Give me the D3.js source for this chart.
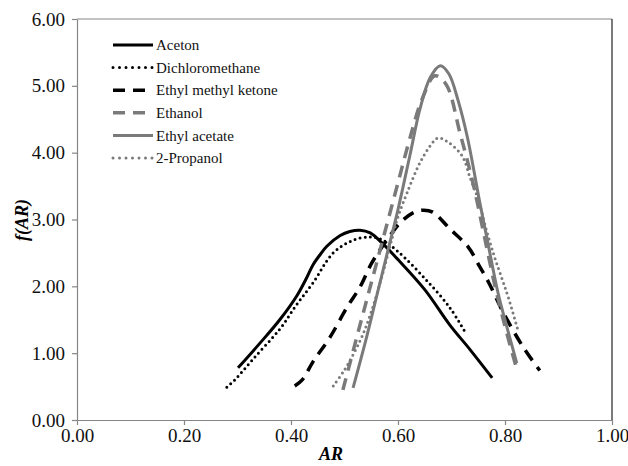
<!DOCTYPE html>
<html>
<head>
<meta charset="utf-8">
<script src="https://cdn.jsdelivr.net/npm/d3@7"></script>
<style>
  html, body { margin: 0; padding: 0; background: #fff; }
  svg { display: block; }
  text { font-family: "Liberation Serif", "Times New Roman", serif; }
</style>
</head>
<body>
<svg id="chart" width="628" height="466"></svg>
<script>
// Size distribution f(AR) of aspect ratio AR for particles from each solvent
const seriesNames = ["Aceton", "Dichloromethane", "Ethyl methyl ketone", "Ethanol", "Ethyl acetate", "2-Propanol"];

const acetonAR = [0.301, 0.342, 0.379, 0.411, 0.430, 0.441, 0.455, 0.467, 0.492, 0.510, 0.529, 0.548, 0.570, 0.600, 0.650, 0.697, 0.735, 0.776];
const acetonF  = [0.78, 1.15, 1.50, 1.86, 2.14, 2.32, 2.48, 2.60, 2.76, 2.82, 2.84, 2.80, 2.65, 2.40, 1.95, 1.42, 1.05, 0.63];

const dcmAR = [0.280, 0.295, 0.330, 0.379, 0.410, 0.441, 0.479, 0.516, 0.548, 0.570, 0.600, 0.650, 0.697, 0.725];
const dcmF  = [0.49, 0.60, 0.92, 1.36, 1.72, 2.05, 2.50, 2.69, 2.74, 2.70, 2.52, 2.12, 1.68, 1.32];

const emkAR = [0.407, 0.421, 0.441, 0.473, 0.505, 0.529, 0.551, 0.580, 0.604, 0.628, 0.647, 0.665, 0.697, 0.731, 0.753, 0.770, 0.796, 0.834, 0.865];
const emkF  = [0.51, 0.60, 0.87, 1.24, 1.69, 1.99, 2.35, 2.70, 2.95, 3.10, 3.14, 3.11, 2.86, 2.59, 2.29, 2.05, 1.62, 1.09, 0.74];

const ethanolAR = [0.497, 0.520, 0.540, 0.560, 0.580, 0.600, 0.620, 0.645, 0.669, 0.690, 0.716, 0.740, 0.759, 0.780, 0.800, 0.820];
const ethanolF  = [0.45, 1.15, 1.75, 2.35, 2.95, 3.55, 4.15, 4.80, 5.15, 5.02, 4.29, 3.55, 2.84, 2.05, 1.40, 0.82];

const etAcAR = [0.516, 0.540, 0.560, 0.580, 0.600, 0.622, 0.641, 0.660, 0.679, 0.695, 0.712, 0.730, 0.753, 0.768, 0.787, 0.805, 0.822];
const etAcF  = [0.48, 1.20, 1.85, 2.50, 3.15, 3.95, 4.65, 5.12, 5.30, 5.18, 4.79, 4.22, 3.25, 2.65, 1.90, 1.35, 0.85];

const propAR = [0.479, 0.500, 0.530, 0.550, 0.570, 0.590, 0.600, 0.617, 0.641, 0.660, 0.675, 0.695, 0.720, 0.735, 0.750, 0.765, 0.780, 0.795, 0.806, 0.825];
const propF  = [0.51, 0.75, 1.20, 1.62, 2.15, 2.75, 3.04, 3.40, 3.85, 4.10, 4.22, 4.15, 3.95, 3.62, 3.30, 2.85, 2.45, 2.10, 1.84, 1.32];

const xTicks = [0, 0.2, 0.4, 0.6, 0.8, 1.0];
const yTicks = [0, 1, 2, 3, 4, 5, 6];

const black = "#000000";
const grey = "#7a7a7a";

const series = [
  { name: seriesNames[0], ar: acetonAR,  f: acetonF,  color: black, width: 3,   dash: null,    cap: "butt" },
  { name: seriesNames[1], ar: dcmAR,     f: dcmF,     color: black, width: 3,   dash: "0 5.2", cap: "round" },
  { name: seriesNames[2], ar: emkAR,     f: emkF,     color: black, width: 3.5, dash: "12 8",  cap: "butt" },
  { name: seriesNames[3], ar: ethanolAR, f: ethanolF, color: grey,  width: 3.5, dash: "12 8",  cap: "butt" },
  { name: seriesNames[4], ar: etAcAR,    f: etAcF,    color: grey,  width: 3,   dash: null,    cap: "butt" },
  { name: seriesNames[5], ar: propAR,    f: propF,    color: grey,  width: 3,   dash: "0 5.2", cap: "round" }
];

const svg = d3.select("#chart");
const x = d3.scaleLinear().domain([0, 1]).range([77, 612]);
const y = d3.scaleLinear().domain([0, 6]).range([420, 19]);

const axisColor = "#868686";

// plot frame: top and right edges
svg.append("line").attr("x1", x(0)).attr("x2", x(1)).attr("y1", y(6)).attr("y2", y(6))
  .attr("stroke", axisColor).attr("stroke-width", 1.2);
svg.append("line").attr("x1", x(1)).attr("x2", x(1)).attr("y1", y(6)).attr("y2", y(0))
  .attr("stroke", "#222").attr("stroke-width", 1.2);

// axes
const xAxis = svg.append("g").attr("transform", `translate(0,${y(0)})`)
  .call(d3.axisBottom(x).tickValues(xTicks).tickFormat(d3.format(".2f")).tickSize(5).tickSizeOuter(0));
const yAxis = svg.append("g").attr("transform", `translate(${x(0)},0)`)
  .call(d3.axisLeft(y).tickValues(yTicks).tickFormat(d3.format(".2f")).tickSize(5).tickSizeOuter(0));

[xAxis, yAxis].forEach(g => {
  g.select(".domain").attr("stroke", axisColor).attr("stroke-width", 1.2);
  g.selectAll(".tick line").attr("stroke", axisColor).attr("stroke-width", 1.2);
  g.selectAll(".tick text").attr("fill", "#111").style("font-size", "19px")
    .style("font-family", "'Liberation Serif', serif");
});
xAxis.selectAll(".tick text").attr("y", 9).attr("dy", "0.71em");
yAxis.selectAll(".tick text").attr("x", -12);

// axis titles
svg.append("text").attr("x", 331).attr("y", 460).attr("text-anchor", "middle")
  .style("font-size", "18px").style("font-weight", "bold").style("font-style", "italic").text("AR");
svg.append("text").attr("transform", "translate(28,220) rotate(-90)").attr("text-anchor", "middle")
  .style("font-size", "18px").style("font-weight", "bold").style("font-style", "italic")
  .text("f(AR)");

// curves
const line = d3.line().x(d => x(d[0])).y(d => y(d[1])).curve(d3.curveCatmullRom.alpha(0.5));
series.forEach(s => {
  const pts = s.ar.map((a, i) => [a, s.f[i]]);
  svg.append("path").datum(pts).attr("d", line)
    .attr("fill", "none").attr("stroke", s.color).attr("stroke-width", s.width)
    .attr("stroke-dasharray", s.dash).attr("stroke-linecap", s.cap)
    .attr("stroke-linejoin", "round");
});

// legend
const legend = svg.append("g");
series.forEach((s, i) => {
  const ly = 45 + i * 22.6;
  legend.append("line").attr("x1", 113).attr("x2", 153).attr("y1", ly).attr("y2", ly)
    .attr("stroke", s.color).attr("stroke-width", s.width)
    .attr("stroke-dasharray", s.dash ? (s.dash === "12 8" ? "12 8" : "0 6.5") : null)
    .attr("stroke-linecap", s.cap);
  legend.append("text").attr("x", 156).attr("y", ly).attr("dy", "0.35em")
    .style("font-size", "15px").attr("fill", "#111").text(s.name);
});
</script>
</body>
</html>
